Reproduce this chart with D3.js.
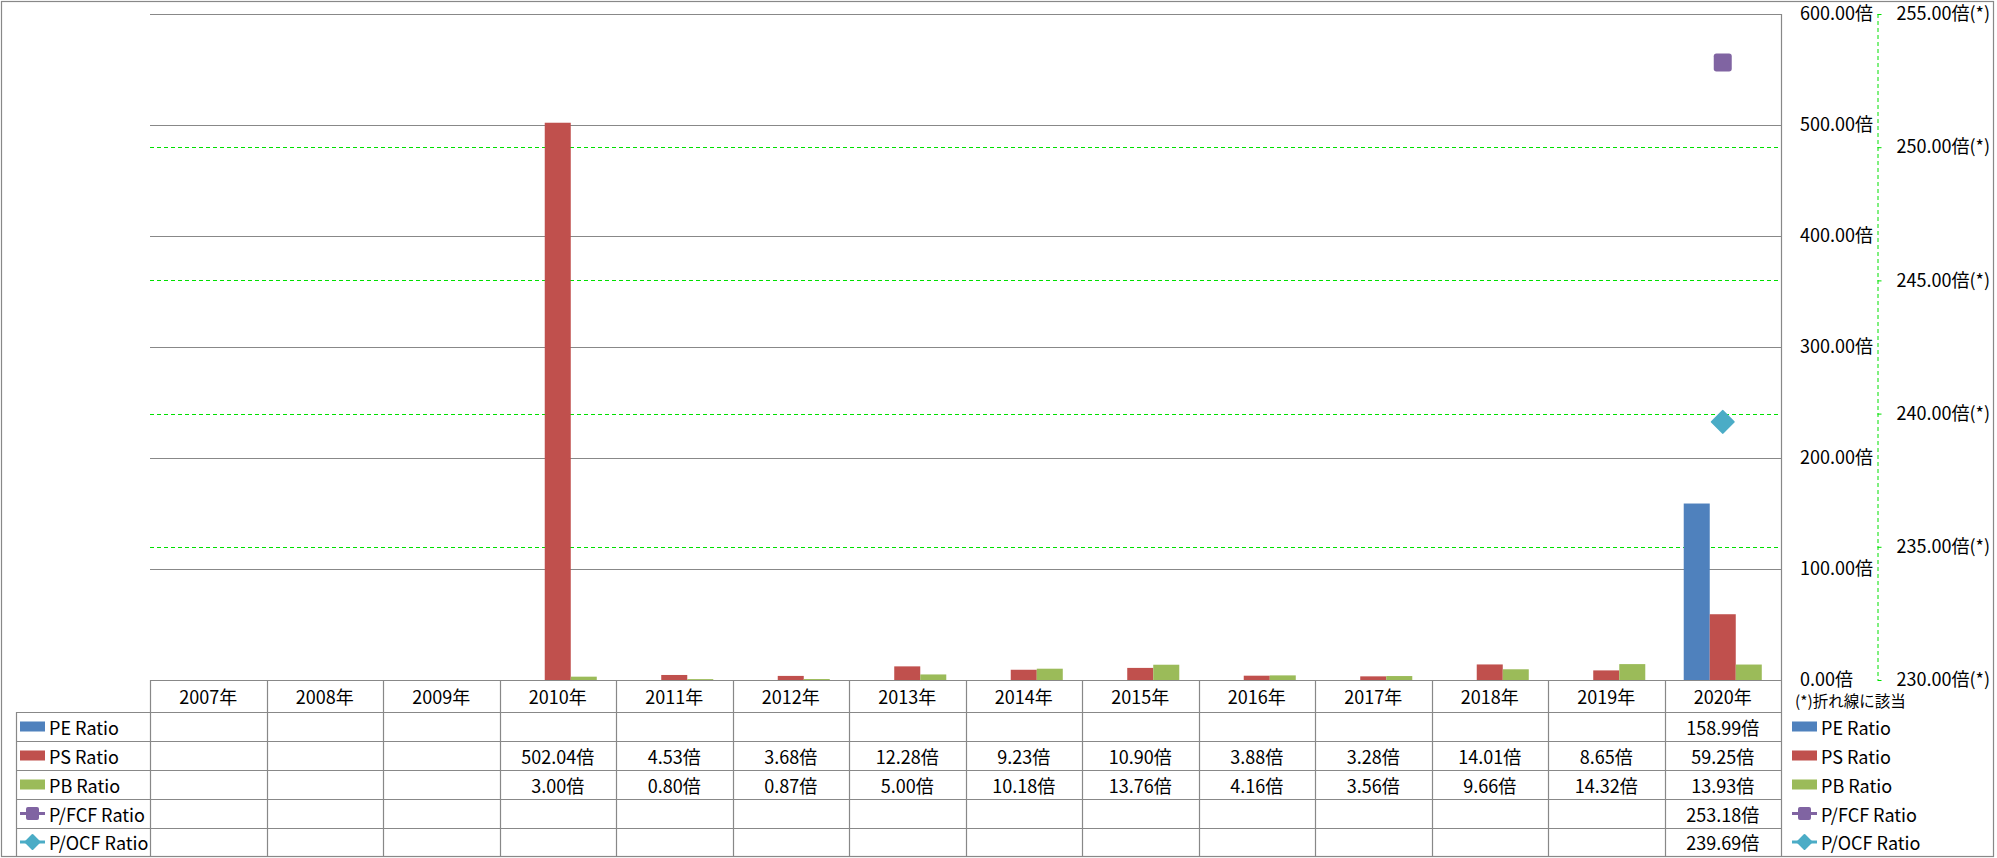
<!DOCTYPE html>
<html><head><meta charset="utf-8">
<script src="https://cdn.jsdelivr.net/npm/d3@7"></script>
<style>
body{margin:0;background:#fff;}
svg{display:block;font-family:"Noto Sans CJK JP","Noto Sans",sans-serif;}
</style></head>
<body><svg id="c" width="1997" height="858"></svg>
<script>
const years = ["2007年","2008年","2009年","2010年","2011年","2012年","2013年","2014年","2015年","2016年","2017年","2018年","2019年","2020年"];
const barSeries = ["PE Ratio","PS Ratio","PB Ratio"];
const lineSeries = ["P/FCF Ratio","P/OCF Ratio"];
const peRatio  = [null,null,null,null,null,null,null,null,null,null,null,null,null,158.99];
const psRatio  = [null,null,null,502.04,4.53,3.68,12.28,9.23,10.90,3.88,3.28,14.01,8.65,59.25];
const pbRatio  = [null,null,null,3.00,0.80,0.87,5.00,10.18,13.76,4.16,3.56,9.66,14.32,13.93];
const pfcfRatio = [null,null,null,null,null,null,null,null,null,null,null,null,null,253.18];
const pocfRatio = [null,null,null,null,null,null,null,null,null,null,null,null,null,239.69];
const leftTicks = [0,100,200,300,400,500,600];
const rightTicks = [230,235,240,245,250,255];
const footnote = "(*)折れ線に該当";
const colors = {"PE Ratio":"#4F81BD","PS Ratio":"#C0504D","PB Ratio":"#9BBB59","P/FCF Ratio":"#8064A2","P/OCF Ratio":"#4BACC6"};
const values = {"PE Ratio":peRatio,"PS Ratio":psRatio,"PB Ratio":pbRatio,"P/FCF Ratio":pfcfRatio,"P/OCF Ratio":pocfRatio};
const allSeries = barSeries.concat(lineSeries);

const svg = d3.select("#c");
const L=150, R=1781, T=14, B=680;
const gridColor="#888888";
const green="#00E000";
const x = d3.scaleBand().domain(years).range([L,R]).padding(0);
const bw = x.bandwidth();
const xs = d3.scaleBand().domain(barSeries).range([bw*0.165,bw*0.835]).padding(0);
const y = d3.scaleLinear().domain([0,600]).range([B,T]);
const y2 = d3.scaleLinear().domain([230,255]).range([B,T]);
const fmt = v => v.toFixed(2)+"倍";

// outer border
svg.append("rect").attr("x",1.5).attr("y",1.5).attr("width",1992).attr("height",855)
  .attr("fill","none").attr("stroke",gridColor).attr("stroke-width",1.2);

// grid lines primary
svg.append("g").selectAll("line").data(leftTicks.filter(t=>t>0)).join("line")
  .attr("x1",L).attr("x2",R).attr("y1",d=>Math.round(y(d))+0.5).attr("y2",d=>Math.round(y(d))+0.5)
  .attr("stroke",gridColor).attr("stroke-width",1.2);
// grid lines secondary (green dashed)
svg.append("g").selectAll("line").data(rightTicks.filter(t=>t>230&&t<255)).join("line")
  .attr("x1",L).attr("x2",R).attr("y1",d=>Math.round(y2(d))+0.5).attr("y2",d=>Math.round(y2(d))+0.5)
  .attr("stroke",green).attr("stroke-width",1).attr("stroke-dasharray","4,3");

// right edge of plot
svg.append("line").attr("x1",R+0.5).attr("x2",R+0.5).attr("y1",T).attr("y2",856)
  .attr("stroke",gridColor).attr("stroke-width",1.2);

// bars
const bars = svg.append("g");
barSeries.forEach(s=>{
  bars.selectAll(null).data(years.map((yr,i)=>({yr,v:values[s][i]})).filter(d=>d.v!=null)).join("rect")
    .attr("x",d=>x(d.yr)+xs(s)).attr("width",xs.bandwidth())
    .attr("y",d=>y(d.v)).attr("height",d=>B-y(d.v))
    .attr("fill",colors[s]);
});

// primary axis labels (right of plot)
const ax1 = d3.axisRight(y).tickValues(leftTicks).tickSize(0).tickPadding(19).tickFormat(fmt);
const g1 = svg.append("g").attr("transform",`translate(${R},0)`).call(ax1);
g1.select(".domain").remove();
g1.selectAll("text").attr("font-size",18).attr("fill","#000").attr("font-family","\"Noto Sans CJK JP\",sans-serif");

// secondary axis
const AX2 = 1877.5;
const ax2 = d3.axisRight(y2).tickValues(rightTicks).tickSize(4).tickPadding(15).tickFormat(d=>fmt(d)+"(*)");
const g2 = svg.append("g").attr("transform",`translate(${AX2},0)`).call(ax2);
g2.select(".domain").attr("stroke",green).attr("stroke-dasharray","4,3").attr("d",`M0.5,${T}V${B}`);
g2.selectAll(".tick line").attr("stroke",green);
g2.selectAll("text").attr("font-size",18).attr("fill","#000").attr("font-family","\"Noto Sans CJK JP\",sans-serif");

// footnote
svg.append("text").attr("x",1795).attr("y",703).attr("dominant-baseline","middle")
  .attr("font-size",15.5).text(footnote);

// line series markers
const markerG = svg.append("g");
function drawMarker(g,s,cx,cy,size){
  if(s==="P/FCF Ratio"){
    g.append("rect").attr("x",cx-size/2).attr("y",cy-size/2).attr("width",size).attr("height",size)
      .attr("rx",size*0.15).attr("fill",colors[s]);
  } else {
    const h=size/2;
    g.append("path").attr("d",`M${cx},${cy-h}L${cx+h},${cy}L${cx},${cy+h}L${cx-h},${cy}Z`)
      .attr("fill",colors[s]).attr("stroke",colors[s]).attr("stroke-width",2).attr("stroke-linejoin","round");
  }
}
lineSeries.forEach(s=>{
  years.forEach((yr,i)=>{
    const v=values[s][i];
    if(v!=null) drawMarker(markerG,s,x(yr)+bw/2,y2(v),s==="P/FCF Ratio"?18:22);
  });
});

// table
const rowY = [680,712,741,770,799,828,856];
const tbl = svg.append("g");
rowY.slice(1,6).forEach(ry=>{
  tbl.append("line").attr("x1",16.5).attr("x2",R).attr("y1",ry+0.5).attr("y2",ry+0.5)
    .attr("stroke",gridColor).attr("stroke-width",1.2);
});
tbl.append("line").attr("x1",L).attr("x2",R).attr("y1",B+0.5).attr("y2",B+0.5)
  .attr("stroke",gridColor).attr("stroke-width",1.2);
years.forEach(yr=>{
  tbl.append("line").attr("x1",Math.round(x(yr))+0.5).attr("x2",Math.round(x(yr))+0.5).attr("y1",B).attr("y2",856)
    .attr("stroke",gridColor).attr("stroke-width",1.2);
});
tbl.append("line").attr("x1",16.5).attr("x2",16.5).attr("y1",712).attr("y2",856)
  .attr("stroke",gridColor).attr("stroke-width",1.2);
tbl.selectAll(null).data(years).join("text")
  .attr("x",d=>x(d)+bw/2).attr("y",(rowY[0]+rowY[1])/2).attr("text-anchor","middle")
  .attr("dominant-baseline","central").attr("font-size",18).text(d=>d);
allSeries.forEach((s,ri)=>{
  const cy=(rowY[ri+1]+rowY[ri+2])/2;
  years.forEach((yr,i)=>{
    const v=values[s][i];
    if(v!=null) tbl.append("text").attr("x",x(yr)+bw/2).attr("y",cy).attr("text-anchor","middle")
      .attr("dominant-baseline","central").attr("font-size",18).text(fmt(v));
  });
});
function legendItem(g,s,x0,cy){
  if(barSeries.includes(s)){
    g.append("rect").attr("x",x0).attr("y",cy-5).attr("width",25).attr("height",10).attr("fill",colors[s]);
  } else {
    g.append("line").attr("x1",x0).attr("x2",x0+25).attr("y1",cy).attr("y2",cy).attr("stroke",colors[s]).attr("stroke-width",3);
    drawMarker(g,s,x0+12.5,cy,s==="P/FCF Ratio"?13:14);
  }
  g.append("text").attr("x",x0+29).attr("y",cy).attr("dominant-baseline","central").attr("font-size",18).text(s);
}
allSeries.forEach((s,ri)=>{
  const cy=(rowY[ri+1]+rowY[ri+2])/2;
  legendItem(tbl,s,20,cy);
  legendItem(tbl,s,1792,cy);
});
</script></body></html>
